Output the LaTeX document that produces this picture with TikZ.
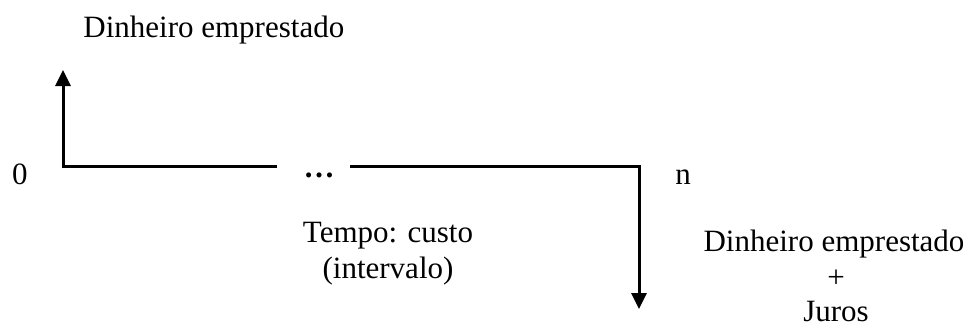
\documentclass[tikz,border=0pt]{standalone}
\usepackage{fontspec}
\setmainfont{Liberation Serif}
\usetikzlibrary{arrows.meta}
\begin{document}
\begin{tikzpicture}[x=0.5pt,y=-0.5pt,font=\fontsize{15.5}{18}\selectfont,
  seta/.style={line width=1.5pt,-{Triangle[length=8pt,width=7.5pt]}},
  rotulo/.style={inner sep=0pt,anchor=base}]
\useasboundingbox (0,0) rectangle (978,328);
\coordinate (O) at (63,166);
\coordinate (N) at (639,166);
\coordinate (topo) at (63,70);
\coordinate (fundo) at (639,309);

\node[rotulo,anchor=base west] (emprestado) at (83,37) {Dinheiro emprestado};
\node[rotulo] (zero) at (20,184) {0};
\node[rotulo] (enes) at (683,184) {n};
\node[rotulo] (pontos) at (319,177) {\textbf{…}};

\node[rotulo] (tempo) at (388,242) {Tempo: custo};
\node[rotulo] (intervalo) at (388,278) {(intervalo)};

\node[rotulo] (total) at (834,251) {Dinheiro emprestado};
\node[rotulo] (mais) at (836,287) {+};
\node[rotulo] (juros) at (836,321) {Juros};

%\draw[line width=1.5pt] (O) -- (N);
\draw[seta] (277,166) -- (O) -- (topo);
\draw[seta] (350,166) -- (N) -- (fundo);
\end{tikzpicture}
\end{document}
